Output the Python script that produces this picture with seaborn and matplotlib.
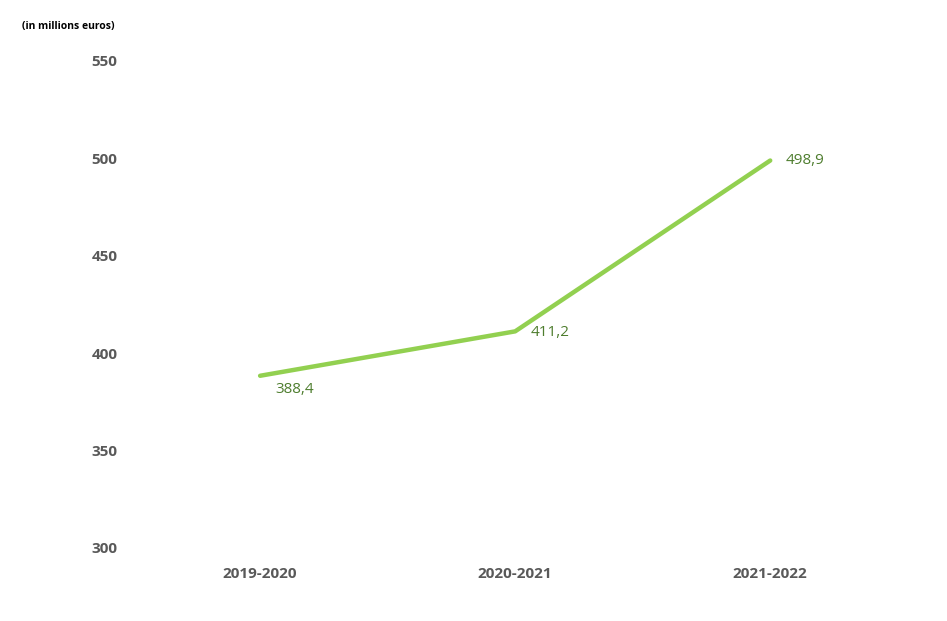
import pandas as pd
import seaborn as sns
import matplotlib.pyplot as plt

years = ["2019-2020", "2020-2021", "2021-2022"]
budget = [388.4, 411.2, 498.9]
budget_labels = ["388,4", "411,2", "498,9"]
y_ticks = [300, 350, 400, 450, 500, 550]

df = pd.DataFrame({"year": years, "budget": budget})

sns.set_style("white")
plt.rcParams['font.family'] = ['Open Sans', 'DejaVu Sans']

fig = plt.figure(figsize=(9.47, 6.21), dpi=100)
ax = fig.add_axes([0.14, 0.1176, 0.808, 0.7842])

sns.lineplot(data=df, x="year", y="budget", color="#92D050", linewidth=3.2, ax=ax)

# data labels, nudged right of each point
offsets = [(11, -10), (11, -1), (11, 0)]
for i, (val, lab) in enumerate(zip(budget, budget_labels)):
    ax.annotate(lab, (i, val), xytext=offsets[i], textcoords="offset points",
                ha="left", va="center", fontsize=11, color="#4E7D2E")

ax.set_xlim(-0.5, 2.5)
ax.set_ylim(300, 550)
ax.set_yticks(y_ticks)
ax.set_xlabel("")
ax.set_ylabel("")
for s in ax.spines.values():
    s.set_visible(False)
ax.tick_params(axis="y", length=0, pad=11)
ax.tick_params(axis="x", length=0, pad=14)
for t in ax.get_xticklabels() + ax.get_yticklabels():
    t.set_fontweight("bold")
    t.set_color("#595959")
    t.set_fontsize(11)

fig.text(0.023, 0.958, "(in millions euros)", fontsize=7.5, fontweight="bold",
         color="black", ha="left", va="center")

fig.savefig("out.png", dpi=100)
